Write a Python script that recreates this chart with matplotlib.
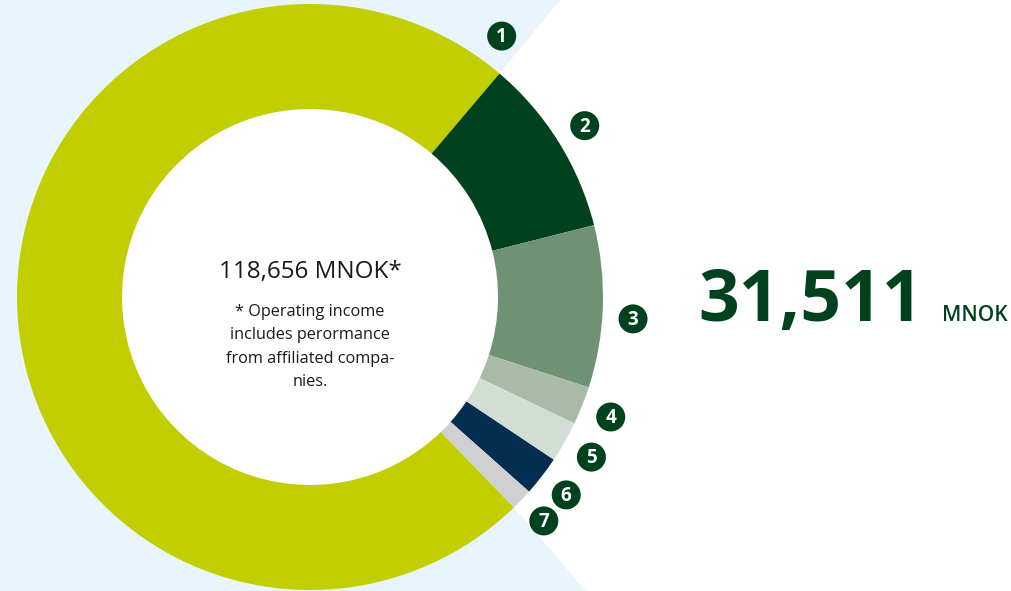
import numpy as np
import matplotlib.pyplot as plt
from matplotlib.patches import Polygon, Circle

# segment values (MNOK)
labels = ["1", "2", "3", "4", "5", "6", "7"]
values = [87145, 11700, 10600, 2500, 2700, 2600, 1411]
colors = ["#c3ce00", "#00421e", "#6f9174", "#a8bba9", "#d2ddd4", "#032e52", "#d0d0d0"]

total_label = "118,656 MNOK*"
note = "* Operating income\nincludes perormance\nfrom affiliated compa-\nnies."
highlight = "31,511"
highlight_unit = "MNOK"

BG = "#e8f5fd"
DARK = "#00421e"
FONT = "Open Sans"

W, H = 1011, 591
cx, cy = 310, 294
R, ring = 293, 105
split_angle = 49.7  # boundary between segment 1 and 2, degrees

fig = plt.figure(figsize=(W / 100, H / 100), dpi=100)
fig.patch.set_facecolor(BG)
ax = fig.add_axes([0, 0, 1, 1])

total = sum(values)
start = split_angle + 360 * values[0] / total
wedges, _ = ax.pie(values, colors=colors, startangle=start, counterclock=False,
                   radius=R, center=(cx, cy), frame=True,
                   wedgeprops=dict(width=ring, linewidth=0))
ax.set_xlim(0, W)
ax.set_ylim(0, H)
ax.set_aspect("equal")
ax.axis("off")

# white "zoom" wedge behind segments 2-7; its apex sits a bit right of/above the centre
apex = np.array([cx + 14, cy + 11])
edges = []
for ang in (wedges[1].theta2, wedges[-1].theta1):
    t = np.deg2rad(ang)
    p = np.array([cx + R * np.cos(t), cy + R * np.sin(t)])
    edges.append(apex + (p - apex) * 6)
poly = [tuple(apex), tuple(edges[0]), (W + 10, H + 10), (W + 10, -10), tuple(edges[1])]
ax.add_patch(Polygon(poly, closed=True, facecolor="white", edgecolor="none", zorder=0))
ax.add_patch(Circle((cx, cy), R - ring, facecolor="white", edgecolor="none", zorder=0))

# numbered markers
lr = R * 1.105
for i, w in enumerate(wedges):
    if i == 0:
        ang = w.theta1 + 4
    elif i == 2:
        ang = (w.theta1 + w.theta2) / 2 - 2
    else:
        ang = (w.theta1 + w.theta2) / 2
    t = np.deg2rad(ang)
    x, y = cx + lr * np.cos(t), cy + lr * np.sin(t)
    ax.add_patch(Circle((x, y), 14.5, facecolor=DARK, edgecolor="none", zorder=5))
    ax.text(x, y - 1, labels[i], color="white", fontsize=13.5, fontweight="bold",
            ha="center", va="center", family=FONT, zorder=6)

ax.text(cx, 319, total_label, fontsize=17.5, ha="center", va="center",
        color="#1a1a1a", family=FONT)
ax.text(cx, 287, note, fontsize=11.7, ha="center", va="top", color="#1a1a1a",
        family=FONT, linespacing=1.62)

ax.text(698, 270, highlight, fontsize=51.5, fontweight="bold", color=DARK,
        ha="left", va="baseline", family=FONT)
ax.text(942, 270, highlight_unit, fontsize=15, fontweight="semibold", color=DARK,
        ha="left", va="baseline", family=FONT)

fig.savefig("out.png", dpi=100, facecolor=BG)
